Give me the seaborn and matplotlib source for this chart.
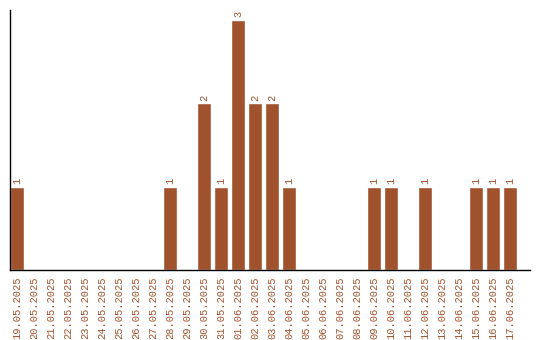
import matplotlib
matplotlib.use("Agg")
import matplotlib.pyplot as plt
import seaborn as sns
import pandas as pd

dates = ["19.05.2025", "20.05.2025", "21.05.2025", "22.05.2025", "23.05.2025",
         "24.05.2025", "25.05.2025", "26.05.2025", "27.05.2025", "28.05.2025",
         "29.05.2025", "30.05.2025", "31.05.2025", "01.06.2025", "02.06.2025",
         "03.06.2025", "04.06.2025", "05.06.2025", "06.06.2025", "07.06.2025",
         "08.06.2025", "09.06.2025", "10.06.2025", "11.06.2025", "12.06.2025",
         "13.06.2025", "14.06.2025", "15.06.2025", "16.06.2025", "17.06.2025"]
counts = [1, 0, 0, 0, 0, 0, 0, 0, 0, 1,
          0, 2, 1, 3, 2, 2, 1, 0, 0, 0,
          0, 1, 1, 0, 1, 0, 0, 1, 1, 1]

color = "#A0522D"
sns.set_style("white")
plt.rcParams["font.family"] = ["Liberation Mono", "DejaVu Sans Mono"]

df = pd.DataFrame({"date": dates, "count": counts})
fig = plt.figure(figsize=(5.4, 3.4), dpi=100)
ax = fig.add_axes([10/540, 70/340, 520/540, 260/340])
sns.barplot(data=df, x="date", y="count", color=color, saturation=1,
            width=0.82, ax=ax)
ax.set_xlim(-0.41, 30.18)
ax.set_ylim(0, 3.12)
ax.set_xlabel("")
ax.set_ylabel("")
ax.set_yticks([])
ax.tick_params(axis="x", length=0, pad=5, labelsize=7.5, labelcolor=color,
               rotation=90)
for s in ["top", "right"]:
    ax.spines[s].set_visible(False)
for s in ["left", "bottom"]:
    ax.spines[s].set_color("black")
    ax.spines[s].set_linewidth(1)
labels = [str(v) if v else "" for v in counts]
ax.bar_label(ax.containers[0], labels=labels, rotation=90, padding=2,
             fontsize=7.5, color=color)
fig.savefig("out.png", dpi=100)
